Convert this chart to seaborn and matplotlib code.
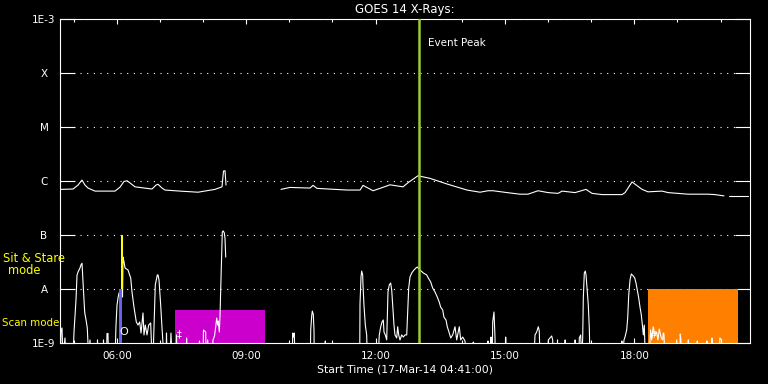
import numpy as np
import pandas as pd
import matplotlib
matplotlib.use('Agg')
import matplotlib.pyplot as plt
import seaborn as sns
from matplotlib.ticker import FixedLocator, MultipleLocator, NullLocator

# time in hours of 17-Mar-14, plot window starts 04:41:00 and runs 16 h
t_start = 4 + 41 / 60
t_end = t_start + 16
event_peak = 13.0

# GOES 14 long channel (1-8 A), W/m^2, nan marks a data gap
long_hours = [4.69, 4.723, 4.985, 5.101, 5.193, 5.263, 5.333, 5.495, 5.959, 6.075, 6.167, 6.237,
              6.307, 6.422, 6.817, 6.909, 6.956, 7.049, 7.118, 7.466, 7.883, 8.278, 8.440, 8.475,
              8.510, 8.533, np.nan,
              9.808, 10.017, 10.481, 10.551, 10.643, 11.339, 11.641, 11.710, 11.942, 12.104,
              12.336, 12.638, 12.753, 12.985, 13.263, 13.657, 14.121, 14.423, 14.608, 14.724,
              15.049, 15.350, 15.536, 15.768, 16.000, 16.232, 16.325, 16.626, 16.881, 17.020,
              17.252, 17.716, 17.786, 17.948, 18.180, 18.319, 18.644, 18.783, 19.246, 19.710,
              19.872, 20.081, np.nan,
              20.197, 20.637]
long_flux = [7.0e-7, 7.0e-7, 7.1e-7, 8.4e-7, 1.04e-6, 8.4e-7, 7.4e-7, 6.5e-7, 6.5e-7, 7.7e-7, 9.8e-7, 1.01e-6,
             9.2e-7, 7.8e-7, 7.1e-7, 8.4e-7, 8.7e-7, 7.4e-7, 6.8e-7, 6.5e-7, 6.2e-7, 7.0e-7, 7.8e-7, 1.53e-6,
             1.55e-6, 8.4e-7, np.nan,
             7.0e-7, 7.6e-7, 7.4e-7, 8.3e-7, 7.3e-7, 6.8e-7, 6.8e-7, 8.3e-7, 6.6e-7, 7.3e-7,
             8.5e-7, 7.8e-7, 9.3e-7, 1.25e-6, 1.12e-6, 8.8e-7, 6.8e-7, 6.2e-7, 6.6e-7, 6.6e-7,
             6.1e-7, 5.7e-7, 5.7e-7, 6.6e-7, 6.1e-7, 5.9e-7, 6.5e-7, 6.1e-7, 7.0e-7, 5.9e-7,
             5.6e-7, 5.6e-7, 6.1e-7, 9.6e-7, 7.0e-7, 6.3e-7, 6.5e-7, 6.1e-7, 5.7e-7, 5.7e-7,
             5.6e-7, 5.3e-7, np.nan,
             5.3e-7, 5.3e-7]

# GOES 14 short channel (0.5-4 A), values under 1E-9 sit below the axis
short_hours = [4.690, 4.706, 4.730, 4.753, 4.799, 4.822, 4.985, 5.008, 5.054, 5.078, 5.101, 5.147,
               5.170, 5.194, 5.217, 5.256, 5.286, 5.316, 5.349, 5.379, 5.402, 5.541, 5.553, 5.564,
               5.680, 5.692, 5.704, 5.762, 5.773, 5.796, 5.808, 5.959, 5.982, 6.005, 6.028, 6.051,
               6.121, 6.133, 6.144, 6.167, 6.191, 6.260, 6.323, 6.353, 6.399, 6.453, 6.492, 6.531,
               6.562, 6.608, 6.631, 6.661, 6.701, 6.740, 6.786, 6.817, 6.840, 6.893, 6.940, 6.956,
               6.979, 7.018, 7.049, 7.095, 7.141, 7.153, 7.164, 7.234, 7.257, 7.280, 7.373, 7.385,
               7.396, 7.605, 7.621, 7.635, 7.906, 7.918, 7.930, 7.999, 8.011, 8.062, 8.069, 8.108,
               8.122, 8.208, 8.231, 8.266, 8.294, 8.317, 8.340, 8.354, 8.377, 8.393, 8.417, 8.447,
               8.470, 8.493, 8.509, 8.526, np.nan,
               9.970, 10.070, 10.079, 10.093, 10.116, 10.132, 10.487, 10.497, 10.520, 10.534, 10.557,
               10.573, 10.580, 10.828, 10.835, 10.844, 11.633, 11.640, 11.663, 11.679, 11.702, 11.709,
               11.732, 11.763, 11.795, 11.809, 12.057, 12.087, 12.120, 12.150, 12.180, 12.196, 12.226,
               12.259, 12.289, 12.319, 12.351, 12.375, 12.398, 12.428, 12.451, 12.491, 12.514, 12.537,
               12.567, 12.607, 12.644, 12.683, 12.723, 12.753, 12.769, 12.799, 12.839, 12.892, 12.938,
               12.969, 13.031, 13.108, 13.186, 13.223, 13.279, 13.325, 13.379, 13.432, 13.478, 13.511,
               13.557, 13.587, 13.634, 13.664, 13.710, 13.743, 13.789, 13.843, 13.882, 13.942, 13.975,
               14.021, 14.075, 14.114, 14.260, 14.267, 14.276, 14.601, 14.608, 14.615, 14.670, 14.677,
               14.684, 14.707, 14.717, 14.747, 14.770, 14.777, 15.009, 15.018, 15.025, 15.674, 15.698,
               15.737, 15.774, 15.797, 15.814, 15.999, 16.006, 16.046, 16.085, 16.108, 16.115, 16.215,
               16.220, 16.224, 16.393, 16.397, 16.400, 16.625, 16.628, 16.632, 16.718, 16.725, 16.757,
               16.780, 16.804, 16.818, 16.841, 16.864, 16.881, 16.911, 16.934, 16.957, 16.973, 17.708,
               17.712, 17.715, 17.762, 17.785, 17.824, 17.847, 17.871, 17.901, 17.931, 17.977, 18.010,
               18.040, 18.070, 18.103, 18.133, 18.163, 18.195, 18.209, 18.232, 18.255, 18.339, 18.379,
               18.402, 18.439, 18.479, 18.518, 18.548, 18.579, 18.625, 18.658, 18.672, 18.688, 18.711,
               18.966, 18.983, 18.997, 19.059, 19.066, 19.082, 19.089, 19.246, 19.253, 19.269, 19.454,
               19.461, 19.468, 19.677, 19.684, 19.691, 19.793, 19.800, 19.807, 19.978, 19.985, 20.024,
               20.031, 20.080]
short_flux = [5e-10, 1.7e-9, 1.9e-9, 5e-10, 1.24e-9, 5e-10, 5e-10, 1.6e-9, 6.2e-9, 1.8e-8, 2.06e-8, 2.45e-8,
              2.8e-8, 3.0e-8, 1.35e-8, 3.7e-9, 2.7e-9, 1.9e-9, 5e-10, 1.14e-9, 5e-10, 5e-10, 1.14e-9, 5e-10,
              5e-10, 1.14e-9, 5e-10, 5e-10, 1.5e-9, 1.5e-9, 5e-10, 5e-10, 2.15e-9, 5.0e-9, 6.8e-9, 8.4e-9,
              9.6e-9, 7.1e-9, 3.9e-8, 3.2e-8, 2.45e-8, 2.25e-8, 1.6e-8, 8.8e-9, 4.6e-9, 2.45e-9, 2.15e-9, 2.45e-9,
              1.53e-9, 3.6e-9, 1.41e-9, 2.15e-9, 1.41e-9, 2.15e-9, 2.35e-9, 5e-10, 5e-10, 1.19e-8, 1.82e-8, 1.82e-8,
              1.47e-8, 5.0e-9, 1.9e-9, 5e-10, 5e-10, 1.53e-9, 5e-10, 5e-10, 1.53e-9, 5e-10, 5e-10, 1.41e-9,
              5e-10, 5e-10, 1.24e-9, 5e-10, 5e-10, 1.09e-9, 5e-10, 5e-10, 1.74e-9, 1.6e-9, 5e-10, 1.14e-9,
              5e-10, 5e-10, 1.14e-9, 1.35e-9, 2.0e-9, 2.9e-9, 2.15e-9, 2.55e-9, 1.6e-9, 3.0e-9, 1.6e-8, 1.14e-7,
              1.19e-7, 1.09e-7, 8.8e-8, 3.9e-8, np.nan,
              5e-10, 5e-10, 1.53e-9, 1.29e-9, 1.53e-9, 5e-10, 5e-10, 1.74e-9, 3.2e-9, 3.9e-9, 3.4e-9,
              1.74e-9, 5e-10, 5e-10, 1.09e-9, 5e-10, 5e-10, 5.3e-9, 1.67e-8, 2.15e-8, 1.82e-8, 1.19e-8,
              5.0e-9, 2.15e-9, 1.41e-9, 5e-10, 5e-10, 1.41e-9, 2.0e-9, 2.45e-9, 2.67e-9, 1.6e-9, 1.41e-9,
              1.14e-9, 8.8e-9, 1.19e-8, 1.29e-8, 9.6e-9, 5.0e-9, 2.15e-9, 1.41e-9, 1.24e-9, 2.0e-9, 1.41e-9,
              1.14e-9, 1.41e-9, 1.29e-9, 1.41e-9, 1.41e-9, 5.0e-9, 1.04e-8, 1.67e-8, 1.98e-8, 2.25e-8, 2.45e-8,
              2.55e-8, 2.25e-8, 1.98e-8, 1.82e-8, 1.6e-8, 1.35e-8, 1.04e-8, 8.8e-9, 7.1e-9, 5.7e-9, 4.6e-9,
              4.1e-9, 3.0e-9, 2.67e-9, 2.0e-9, 1.53e-9, 1.24e-9, 1.41e-9, 2.0e-9, 1.14e-9, 2.0e-9, 1.14e-9,
              1.29e-9, 1.09e-9, 5e-10, 5e-10, 1.04e-9, 5e-10, 5e-10, 1.09e-9, 5e-10, 5e-10, 1.29e-9,
              5e-10, 5e-10, 2.45e-9, 3.75e-9, 1.29e-9, 5e-10, 5e-10, 1.29e-9, 5e-10, 5e-10, 1.41e-9,
              1.6e-9, 2.0e-9, 1.67e-9, 5e-10, 5e-10, 1.14e-9, 1.24e-9, 1.35e-9, 1.14e-9, 5e-10, 5e-10,
              1.14e-9, 5e-10, 5e-10, 1.14e-9, 5e-10, 5e-10, 1.14e-9, 5e-10, 5e-10, 1.24e-9, 1.41e-9,
              5e-10, 1.24e-9, 6.8e-9, 1.98e-8, 2.15e-8, 1.82e-8, 8.8e-9, 5.0e-9, 1.9e-9, 5e-10, 5e-10,
              1.09e-9, 5e-10, 1.14e-9, 1.29e-9, 1.74e-9, 2.9e-9, 7.7e-9, 1.47e-8, 1.9e-8, 1.74e-8, 1.6e-8,
              1.29e-8, 9.6e-9, 6.8e-9, 4.6e-9, 3.3e-9, 1.9e-9, 1.41e-9, 2.15e-9, 5e-10, 5e-10, 1.74e-9,
              1.14e-9, 2.0e-9, 1.41e-9, 1.6e-9, 1.14e-9, 1.82e-9, 1.24e-9, 1.14e-9, 1.53e-9, 1.47e-9, 5e-10,
              5e-10, 1.14e-9, 5e-10, 5e-10, 1.47e-9, 1.14e-9, 5e-10, 5e-10, 1.14e-9, 5e-10, 5e-10,
              1.09e-9, 5e-10, 5e-10, 1.09e-9, 5e-10, 5e-10, 1.24e-9, 5e-10, 5e-10, 1.24e-9, 1.14e-9,
              5e-10, 5e-10]

# instrument mode intervals (hours) and their flux extent
scan_magenta = (7.35, 9.44, 1e-9, 4.1e-9)
scan_orange = (18.32, 20.40, 1e-9, 1e-8)
scan_blue = (6.051, 6.121, 1e-9, 1e-8)
stare_yellow = (6.091, 6.137, 1e-8, 1e-7)

y_ticks = [1e-9, 1e-8, 1e-7, 1e-6, 1e-5, 1e-4, 1e-3]
y_labels = ['1E-9', 'A', 'B', 'C', 'M', 'X', '1E-3']
x_ticks = [6, 9, 12, 15, 18]
x_labels = ['06:00', '09:00', '12:00', '15:00', '18:00']


def to_frame(hours, flux):
    df = pd.DataFrame({'hours': hours, 'flux': flux})
    df['seg'] = df['flux'].isna().cumsum()
    return df.dropna()


long_df = to_frame(long_hours, long_flux)
short_df = to_frame(short_hours, short_flux)

sns.set_style('dark', {'axes.facecolor': 'black', 'figure.facecolor': 'black',
                       'axes.edgecolor': 'white', 'text.color': 'white',
                       'xtick.color': 'white', 'ytick.color': 'white',
                       'axes.labelcolor': 'white', 'grid.color': 'white'})
plt.rcParams['font.family'] = ['DejaVu Sans']

fig = plt.figure(figsize=(7.68, 3.84), dpi=100)
ax = fig.add_axes([60 / 768, 41 / 384, 690 / 768, 324 / 384])
ax.set_facecolor('black')

# mode boxes
for (t0, t1, lo, hi), col, z in [(scan_magenta, '#cc00cc', 1), (scan_orange, '#ff8000', 1),
                                  (scan_blue, '#6464f0', 3), (stare_yellow, '#ffff00', 3)]:
    ax.fill_between([t0, t1], lo, hi, color=col, lw=0, zorder=z)

sns.lineplot(data=long_df, x='hours', y='flux', units='seg', estimator=None, sort=False,
             color='white', lw=0.8, legend=False, ax=ax)
sns.lineplot(data=short_df, x='hours', y='flux', units='seg', estimator=None, sort=False,
             color='white', lw=0.8, legend=False, ax=ax)

ax.axvline(event_peak, color='#9acd32', lw=1.8, zorder=4)
ax.annotate('Event Peak', xy=(event_peak, 0.926), xycoords=('data', 'axes fraction'),
            xytext=(6.5, 0), textcoords='offset points', ha='left', va='center',
            fontsize=7.5, color='white')

# plot symbols
ax.text(6.156, 1.6e-9, 'O', color='white', fontsize=8, ha='center', va='center', zorder=5)
ax.text(7.45, 1.45e-9, '\u2021', color='white', fontsize=7, ha='center', va='center')
ax.text(18.43, 1.4e-9, '#', color='white', fontsize=6.5, ha='center', va='center')

ax.set_yscale('log')
ax.set_ylim(1e-9, 1e-3)
ax.set_xlim(t_start, t_end)
ax.yaxis.set_major_locator(FixedLocator(y_ticks))
ax.yaxis.set_minor_locator(NullLocator())
ax.set_yticks(y_ticks, y_labels, ha='center')
ax.set_xticks(x_ticks, x_labels)
ax.xaxis.set_minor_locator(MultipleLocator(1))

ax.tick_params(axis='x', which='both', direction='in', top=True, bottom=True,
               colors='white', labelsize=7.5, pad=6, width=0.8)
ax.tick_params(axis='x', which='major', length=3.6)
ax.tick_params(axis='x', which='minor', length=1.9)
ax.tick_params(axis='y', which='major', direction='in', left=True, right=True,
               colors='white', labelsize=7.5, length=10.5, width=0.8, pad=11.5)

ax.xaxis.grid(False)
ax.yaxis.grid(True, which='major', color='white', linestyle=(0, (1, 5)), linewidth=0.8)
for s in ax.spines.values():
    s.set_color('white')
    s.set_linewidth(0.8)

ax.set_title('GOES 14 X-Rays:', fontsize=8.5, color='white', pad=4)
ax.set_xlabel('Start Time (17-Mar-14 04:41:00)', fontsize=7.8, color='white', labelpad=2)
ax.set_ylabel('')

fig.text(34 / 768, 1 - 258.5 / 384, 'Sit & Stare', color='yellow', fontsize=8.3, ha='center', va='center')
fig.text(24 / 768, 1 - 271 / 384, 'mode', color='yellow', fontsize=8.3, ha='center', va='center')
fig.text(2 / 768, 1 - 323.5 / 384, 'Scan mode', color='yellow', fontsize=7.4, ha='left', va='center')

fig.savefig('out.png', dpi=100, facecolor='black')
